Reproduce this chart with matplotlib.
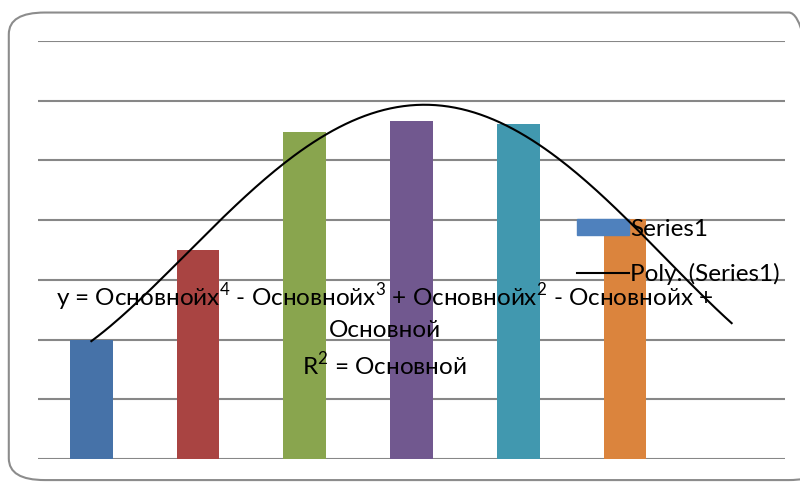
import numpy as np
import matplotlib.pyplot as plt
from matplotlib.patches import FancyBboxPatch, Patch
from matplotlib.lines import Line2D

plt.rcParams['font.family'] = ['Lato', 'DejaVu Sans']
plt.rcParams['mathtext.fontset'] = 'custom'
plt.rcParams['mathtext.rm'] = 'Lato'

# Данные
categories = [1, 2, 3, 4, 5, 6, 7]
values = [2.0, 3.5, 5.47, 5.66, 5.61, 4.02]
bar_colors = ['#4672A8', '#A94442', '#89A54E', '#71588F', '#4198AF', '#DB843D']
equation = ("y = Основнойx$^{4}$ - Основнойx$^{3}$ + Основнойx$^{2}$ - Основнойx +\n"
            "Основной\nR$^{2}$ = Основной")

fig = plt.figure(figsize=(8, 4.82), dpi=100)

# Рамка диаграммы
border = FancyBboxPatch((0.011, 0.004), 1.02, 0.97,
                        boxstyle="round,pad=0,rounding_size=0.045",
                        transform=fig.transFigure, fill=False,
                        edgecolor='#8c8c8c', linewidth=1.5, clip_on=False)
fig.patches.append(border)

ax = fig.add_axes([0.0475, 0.0477, 0.93375, 0.8673])
ax.set_xlim(0.5, 7.5)
ax.set_ylim(0, 7)
ax.set_yticks(range(0, 8))
ax.grid(axis='y', color='#878787', linewidth=1.5)
ax.set_axisbelow(True)
for s in ax.spines.values():
    s.set_visible(False)
ax.tick_params(left=False, bottom=False, labelleft=False, labelbottom=False)

x = np.array(categories[:len(values)])
ax.bar(x, values, width=0.4, color=bar_colors, zorder=2)

# Полиномиальный тренд 4-й степени (с прогнозом на 1 период)
coef = np.polyfit(x, values, 4)
xs = np.linspace(1, 7, 200)
ax.plot(xs, np.polyval(coef, xs), color='black', linewidth=1.5, zorder=4)

ax.text(3.75, 2.16, equation, ha='center', va='center', fontsize=17.5,
        linespacing=1.4, zorder=3)

handles = [Patch(color='#4F81BD'), Line2D([0], [0], color='black', linewidth=1.5)]
leg = ax.legend(handles, ['Series1', 'Poly. (Series1)'], loc='upper left',
                bbox_to_anchor=(0.7216, 0.575), frameon=False, fontsize=17.5,
                handlelength=2.14, handleheight=0.62, handletextpad=0.05,
                labelspacing=0.95, borderpad=0, borderaxespad=0)
leg.set_zorder(3)

plt.savefig("out.png")
